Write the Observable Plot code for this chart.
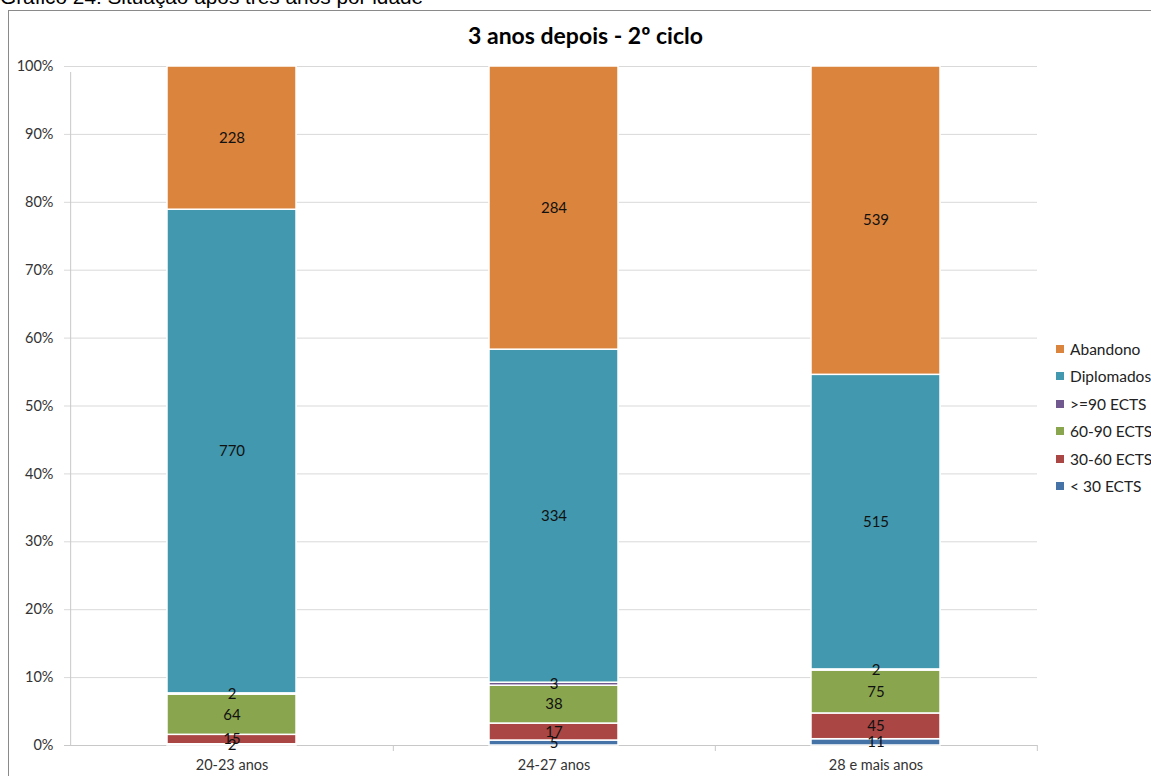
<!DOCTYPE html>
<html>
<head>
<meta charset="utf-8">
<script src="https://cdn.jsdelivr.net/npm/d3@7"></script>
<script src="https://cdn.jsdelivr.net/npm/@observablehq/plot@0.6"></script>
<style>
  html, body { margin: 0; padding: 0; background: #fff; overflow: hidden; }
  #wrap { position: relative; width: 1151px; height: 776px; overflow: hidden; }
  #caption { position: absolute; left: 0; top: -15px; font-family: "Liberation Sans", Arial, sans-serif; font-size: 20.8px; color: #000; white-space: nowrap; }
  #frame { position: absolute; left: 8px; top: 10px; width: 1200px; height: 800px; border-left: 1px solid #8a8a8a; border-top: 1px solid #8a8a8a; }
  #title { position: absolute; left: 0; width: 1171px; top: 21px; text-align: center; font-family: Lato, sans-serif; font-weight: bold; font-size: 23px; color: #000; }
  #chart { position: absolute; left: 9px; top: 11px; }
  #legend { position: absolute; left: 1056px; top: 335px; font-family: Lato, sans-serif; font-size: 15.5px; color: #222; }
  .li { height: 27.5px; display: flex; align-items: center; white-space: nowrap; }
  .sw { width: 8px; height: 8px; margin-right: 6px; flex: none; }
</style>
</head>
<body>
<div id="wrap">
  <div id="caption">Gráfico 24: Situação após três anos por idade</div>
  <div id="frame"></div>
  <div id="title">3 anos depois - 2º ciclo</div>
  <div id="chart"></div>
  <div id="legend"></div>
</div>
<script>
const categories = ["20-23 anos", "24-27 anos", "28 e mais anos"];
const series = ["< 30 ECTS", "30-60 ECTS", "60-90 ECTS", ">=90 ECTS", "Diplomados", "Abandono"];
const lt30 = [2, 5, 11];
const e30_60 = [15, 17, 45];
const e60_90 = [64, 38, 75];
const ge90 = [2, 3, 2];
const diplomados = [770, 334, 515];
const abandono = [228, 284, 539];
const colors = ["#4572A7", "#AA4643", "#89A54E", "#71588F", "#4198AF", "#DB843D"];
const yTicks = [0, 0.1, 0.2, 0.3, 0.4, 0.5, 0.6, 0.7, 0.8, 0.9, 1];
const legendOrder = ["Abandono", "Diplomados", ">=90 ECTS", "60-90 ECTS", "30-60 ECTS", "< 30 ECTS"];

const seriesValues = [lt30, e30_60, e60_90, ge90, diplomados, abandono];
const data = [];
categories.forEach((c, i) => {
  series.forEach((s, j) => data.push({cat: c, series: s, value: seriesValues[j][i]}));
});

const W = 1142, H = 765, mL = 60, mR = 114, mT = 55, mB = 31;
const step = (W - mL - mR) / 3;

const chart = Plot.plot({
  width: W, height: H,
  marginLeft: mL, marginRight: mR, marginTop: mT, marginBottom: mB,
  style: {fontFamily: "Lato, sans-serif", fontSize: "14.5px", color: "#333", background: "transparent", overflow: "visible"},
  x: {domain: categories, paddingInner: 0.6, paddingOuter: 0.3, label: null, tickSize: 0, tickPadding: 14},
  y: {domain: [0, 1], ticks: yTicks, tickFormat: d3.format(".0%"), tickSize: 0, tickPadding: 16, label: null},
  color: {domain: series, range: colors},
  marks: [
    Plot.ruleY(yTicks, {stroke: "#d9d9d9", strokeWidth: 1, insetLeft: -5}),
    Plot.ruleX(categories.slice(0, 1), {x: d => d, dx: -step / 2, y1: 0, y2: 1, stroke: "#c8c8c8", insetBottom: -6}),
    Plot.ruleX(categories, {x: d => d, dx: step / 2, y1: 0, y2: 0, stroke: "#c8c8c8", insetBottom: -6}),
    Plot.ruleY([0], {stroke: "#c8c8c8", insetLeft: -5}),
    Plot.barY(data, Plot.stackY({offset: "normalize", x: "cat", y: "value", z: "series", fill: "series", stroke: "white", strokeWidth: 1.5})),
    Plot.text(data, Plot.stackY({offset: "normalize", x: "cat", y: "value", z: "series", text: "value", fill: "#111", fontSize: 15}))
  ]
});
document.getElementById("chart").appendChild(chart);

const leg = document.getElementById("legend");
legendOrder.forEach(s => {
  const row = document.createElement("div");
  row.className = "li";
  const sw = document.createElement("span");
  sw.className = "sw";
  sw.style.background = colors[series.indexOf(s)];
  const t = document.createElement("span");
  t.textContent = s;
  row.appendChild(sw);
  row.appendChild(t);
  leg.appendChild(row);
});
</script>
</body>
</html>
